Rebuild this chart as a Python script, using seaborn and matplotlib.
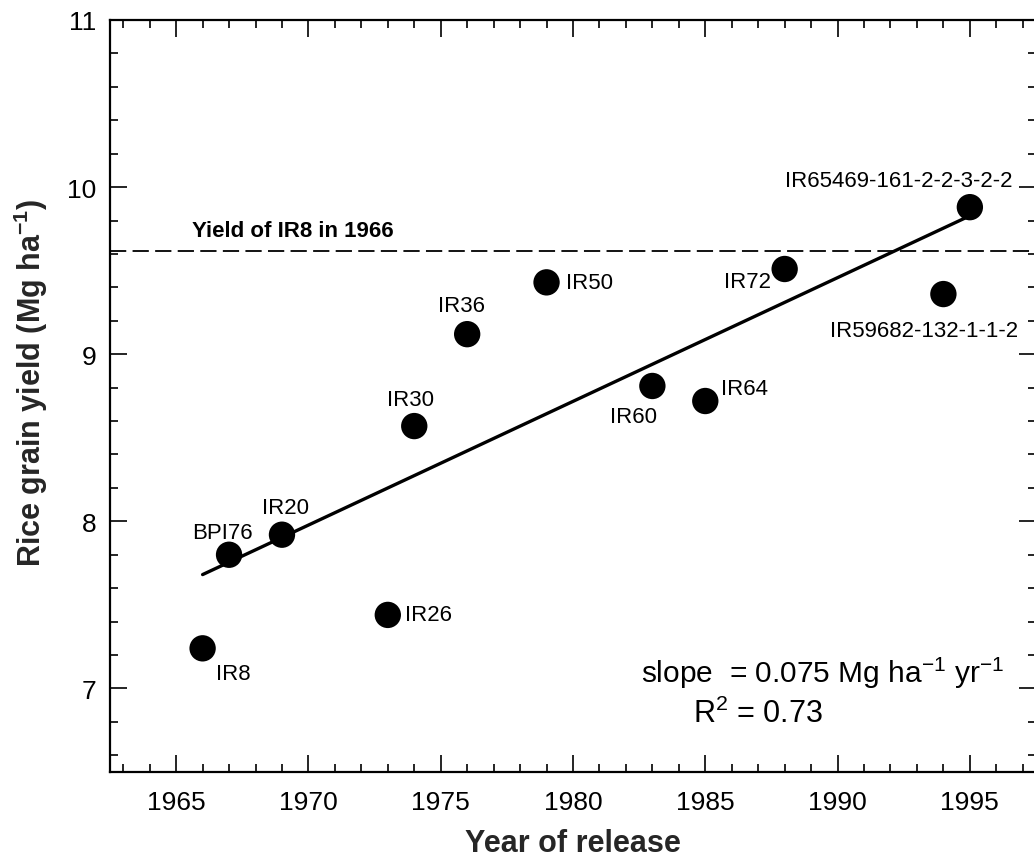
import matplotlib
matplotlib.use("Agg")
import matplotlib.pyplot as plt
from matplotlib.ticker import MultipleLocator
import seaborn as sns
import pandas as pd

years = [1966, 1967, 1969, 1973, 1974, 1976, 1979, 1983, 1985, 1988, 1994, 1995]
yields = [7.24, 7.80, 7.92, 7.44, 8.57, 9.12, 9.43, 8.81, 8.72, 9.51, 9.36, 9.88]
varieties = ["IR8", "BPI76", "IR20", "IR26", "IR30", "IR36", "IR50", "IR60",
             "IR64", "IR72", "IR59682-132-1-1-2", "IR65469-161-2-2-3-2-2"]
ir8_yield = 9.62
x_ticks = [1965, 1970, 1975, 1980, 1985, 1990, 1995]
y_ticks = [7, 8, 9, 10, 11]

# label placement: (dx px, dy px, ha) relative to the point
label_place = {
    "IR8": (13, 25, "left"),
    "BPI76": (-7, -22, "center"),
    "IR20": (4, -27, "center"),
    "IR26": (17, 0, "left"),
    "IR30": (-4, -27, "center"),
    "IR36": (-6, -29, "center"),
    "IR50": (19, 0, "left"),
    "IR60": (-19, 31, "center"),
    "IR64": (16, -13, "left"),
    "IR72": (-14, 13, "right"),
    "IR59682-132-1-1-2": (-19, 36, "center"),
    "IR65469-161-2-2-3-2-2": (-71, -27, "center"),
}

df = pd.DataFrame({"year": years, "yield": yields, "variety": varieties})

sns.set_theme(style="ticks")
plt.rcParams["font.family"] = ["Liberation Sans", "DejaVu Sans"]
plt.rcParams["mathtext.fontset"] = "custom"
plt.rcParams["mathtext.rm"] = "Liberation Sans"
plt.rcParams["mathtext.it"] = "Liberation Sans:italic"
plt.rcParams["mathtext.bf"] = "Liberation Sans:bold"

fig = plt.figure(figsize=(10.34, 8.62), dpi=100)
W, H = 1034, 862
ax = fig.add_axes([110 / W, 1 - 773 / H, (1036 - 110) / W, (773 - 21) / H])

sns.regplot(data=df, x="year", y="yield", ci=None, ax=ax, color="black",
            scatter_kws=dict(s=360, edgecolors="none", zorder=3, alpha=1),
            line_kws=dict(lw=2.4, zorder=2))

ax.axhline(ir8_yield, color="black", lw=1.3, ls=(0, (9, 3.5)), zorder=1)

px2pt = 72 / 100
for name, xv, yv in zip(varieties, years, yields):
    dx, dy, ha = label_place[name]
    ax.annotate(name, (xv, yv), xytext=(dx * px2pt, -dy * px2pt),
                textcoords="offset points", ha=ha, va="center",
                fontsize=16, color="black")

ax.text(1965.6, 9.74, "Yield of IR8 in 1966", fontsize=16, fontweight="bold",
        ha="left", va="center", color="black")
ax.text(1996.3, 7.036, r"slope  = 0.075 Mg ha$^{\mathregular{-1}}$ yr$^{\mathregular{-1}}$",
        fontsize=21.5, ha="right", va="baseline", color="black")
ax.text(1984.55, 6.797, r"R$^{\mathregular{2}}$ = 0.73",
        fontsize=22, ha="left", va="baseline", color="black")

ax.set_xlim(1962.5, 1997.5)
ax.set_ylim(6.5, 11)
ax.set_xticks(x_ticks)
ax.set_yticks(y_ticks)
ax.xaxis.set_minor_locator(MultipleLocator(1))
ax.yaxis.set_minor_locator(MultipleLocator(0.2))
ax.tick_params(which="both", direction="in", top=True, right=True,
               colors="black", width=1.2)
ax.tick_params(which="major", length=12, labelsize=19)
ax.tick_params(axis="x", which="major", pad=13)
ax.tick_params(axis="y", which="major", pad=10)
ax.tick_params(which="minor", length=6)
for s in ax.spines.values():
    s.set_linewidth(1.6)
    s.set_color("black")

ax.set_xlabel("Year of release", fontsize=22, fontweight="bold", labelpad=10)
ax.set_ylabel(r"Rice grain yield (Mg ha$^{\mathbf{-1}}$)", fontsize=22,
              fontweight="bold", labelpad=12)
ax.yaxis.label.set_y(0.519)

fig.savefig("out.png", dpi=100)
